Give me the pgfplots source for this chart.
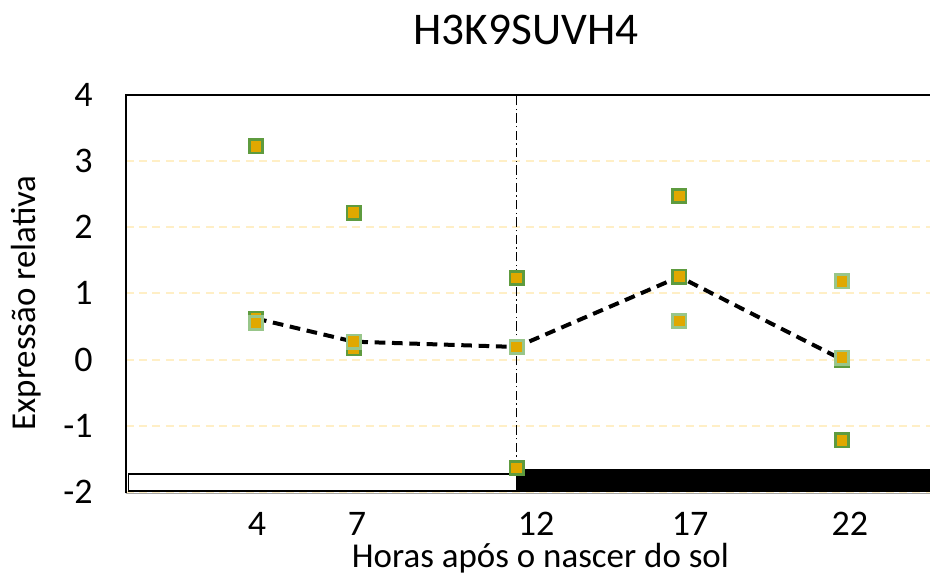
\documentclass[border=0pt]{standalone}
\usepackage{fontspec}
\setmainfont{Carlito}
\usepackage{pgfplots}
\pgfplotsset{compat=1.18}
\definecolor{gold}{HTML}{E0A800}
\definecolor{dkg}{HTML}{5E9B3F}
\definecolor{ltg}{HTML}{98C68A}
\definecolor{gridc}{HTML}{FFEFC6}
\begin{document}
\begin{tikzpicture}
\useasboundingbox (-94.35pt,-65.25pt) rectangle (603.15pt,369pt);
\begin{axis}[
 at={(0,0)}, anchor=south west,
 scale only axis, width=603.15pt, height=298pt,
 xmin=0, xmax=24.7, ymin=-2, ymax=4,
 axis line style={draw=none},
 clip=false,
 xtick={4.03,7.1,12.6,17.33,22.24},
 xticklabels={4,7,12,17,22},
 ytick={-2,-1,0,1,2,3,4},
 yticklabels={-2,-1,0,1,2,3,4},
 major tick length=0pt,
 /pgf/number format/assume math mode=true,
 xticklabel style={anchor=base, inner sep=0pt, yshift=-32.25pt, font=\fontsize{27}{32}\selectfont},
 yticklabel style={anchor=east, inner sep=0pt, xshift=-24.6pt, font=\fontsize{27}{32}\selectfont},
 ymajorgrids,
 grid style={gridc, line width=1.5pt, dash pattern=on 6pt off 4pt},
]
% bottom thin line
\draw[gray!70, line width=0.8pt] (axis cs:0,-2.02) -- (axis cs:24.7,-2.02);
% median line
\addplot[black, line width=3pt, dash pattern=on 8pt off 5pt, mark=none] coordinates {
(4,0.62) (7,0.27) (12,0.19) (17,1.25) (22,0.0)};
% dark-outlined points
\addplot[only marks, mark=square*, mark size=5pt, mark options={fill=gold, draw=dkg, line width=2pt}] coordinates {
(4,3.22) (4,0.62) (7,2.22) (7,0.17) (12,1.23) (12,-1.64) (17,2.47) (17,1.25) (22,-1.22) (22,0.0)};
% light-outlined points
\addplot[only marks, mark=square*, mark size=5pt, mark options={fill=gold, draw=ltg, line width=2pt}] coordinates {
(4,0.55) (7,0.27) (12,0.19) (17,0.58) (22,1.18) (22,0.03)};
% light/dark period bars
\addplot[draw=black, line width=1.3pt, fill=white] coordinates {(0.08,-1.98) (12,-1.98) (12,-1.73) (0.08,-1.73)} -- cycle;
\addplot[draw=none, fill=black] coordinates {(12,-2.0) (24.7,-2.0) (24.7,-1.66) (12,-1.66)} -- cycle;
% vertical dash-dot line at 12
\draw[black, line width=1pt, dash pattern=on 7pt off 2.5pt on 1pt off 2.5pt] (axis cs:12,-1.66) -- (axis cs:12,4);
% frame
\draw[black, line width=1.6pt] (axis cs:0,-2.02) -- (axis cs:0,4) -- (axis cs:24.7,4);
\end{axis}
\node[anchor=base, font=\fontsize{34}{40}\selectfont] at (300.15pt,335.25pt) {H3K9SUVH4};
\node[anchor=base, font=\fontsize{26.2}{31}\selectfont] at (311pt,-56.25pt) {Horas após o nascer do sol};
\node[anchor=base, rotate=90, font=\fontsize{26.2}{31}\selectfont] at (-67.35pt,141.75pt) {Expressão relativa};
\end{tikzpicture}
\end{document}
